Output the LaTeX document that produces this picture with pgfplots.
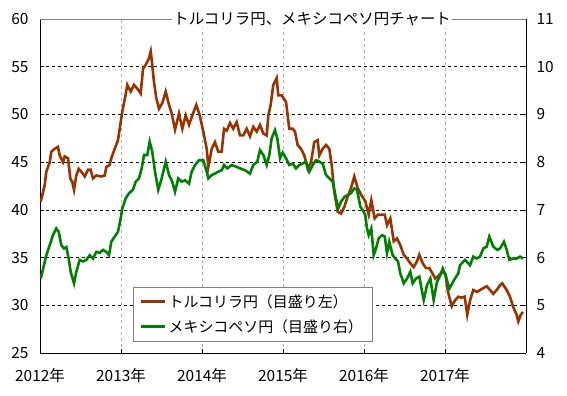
\documentclass[border=0pt]{standalone}
\usepackage{pgfplots}
\pgfplotsset{compat=1.18}
\usetikzlibrary{calc}
\usepackage{fontspec}
\setmainfont{Noto Sans CJK JP}
\definecolor{tryc}{RGB}{153,51,0}
\definecolor{mxnc}{RGB}{0,128,0}
\begin{document}
\begin{tikzpicture}
\useasboundingbox (-40bp,-43bp) rectangle (527bp,353bp);
\begin{axis}[
  name=ax,
  scale only axis, width=486bp, height=334bp,
  xmin=2012, xmax=2018, ymin=25, ymax=60,
  axis x line*=bottom, axis y line*=left,
  axis line style={black, line width=0.8bp},
  xtick={2012,2013,2014,2015,2016,2017},
  xticklabels={2012年,2013年,2014年,2015年,2016年,2017年},
  ytick={25,30,35,40,45,50,55,60},
  tick align=inside, major tick length=4bp,
  tick style={black, line width=0.6bp},
  /pgf/number format/assume math mode=true,
  ticklabel style={font=\fontsize{15.5}{17}\selectfont},
  xticklabel style={yshift=-12bp},
  yticklabel style={xshift=-8bp},
  grid=major,
  x grid style={gray!60, dash pattern=on 3bp off 3bp, line width=0.6bp},
  y grid style={black, dash pattern=on 3bp off 3bp, line width=0.6bp},
  legend style={at={(0.191,0.036)}, anchor=south west, draw=gray,
    font=\fontsize{15}{17}\selectfont, row sep=7bp, inner xsep=7bp, inner ysep=5bp},
  legend cell align=left,
  legend image code/.code={\draw[#1, line width=2.6bp] (0bp,0bp) -- (24bp,0bp);},
]
\addplot[tryc, line width=2.6bp] coordinates {
(2012.009,40.85)(2012.058,42.6)(2012.078,44.0)(2012.120,45.0)(2012.140,46.1)(2012.181,46.4)
(2012.222,46.6)(2012.243,45.7)(2012.284,45.0)(2012.305,45.6)(2012.346,45.4)(2012.374,43.3)
(2012.399,42.9)(2012.420,42.1)(2012.448,43.6)(2012.478,44.3)(2012.510,44.0)(2012.552,43.5)
(2012.593,44.2)(2012.626,44.2)(2012.654,43.3)(2012.695,43.6)(2012.757,43.5)(2012.799,43.6)
(2012.819,44.5)(2012.860,44.7)(2012.880,45.4)(2012.922,46.4)(2012.963,47.3)(2012.984,48.5)
(2013.016,50.3)(2013.049,51.7)(2013.078,53.1)(2013.120,52.4)(2013.160,53.1)(2013.201,52.7)
(2013.243,52.2)(2013.272,54.8)(2013.305,55.2)(2013.346,55.9)(2013.367,56.6)(2013.386,55.2)
(2013.407,53.4)(2013.436,51.7)(2013.469,50.6)(2013.510,51.2)(2013.552,52.4)(2013.593,51.0)
(2013.626,50.1)(2013.667,48.4)(2013.716,50.1)(2013.757,48.5)(2013.799,49.9)(2013.840,48.9)
(2013.880,49.9)(2013.930,51.0)(2013.972,49.9)(2014.016,48.2)(2014.058,46.4)(2014.078,44.5)
(2014.120,46.4)(2014.160,47.1)(2014.201,46.1)(2014.243,46.1)(2014.272,48.5)(2014.305,48.3)
(2014.346,49.1)(2014.386,48.5)(2014.428,49.2)(2014.469,47.8)(2014.510,47.8)(2014.552,48.5)
(2014.593,47.7)(2014.633,48.7)(2014.675,48.2)(2014.716,48.9)(2014.757,48.0)(2014.799,47.8)
(2014.819,49.9)(2014.848,51.0)(2014.880,53.1)(2014.922,53.8)(2014.942,52.0)(2014.984,52.0)
(2015.037,51.3)(2015.078,48.5)(2015.120,48.5)(2015.148,48.2)(2015.181,46.8)(2015.222,46.4)
(2015.263,45.7)(2015.305,44.3)(2015.346,45.0)(2015.386,47.1)(2015.428,47.3)(2015.448,45.7)
(2015.490,46.4)(2015.531,46.8)(2015.572,46.4)(2015.601,44.7)(2015.633,41.9)(2015.675,39.8)
(2015.716,39.6)(2015.757,40.3)(2015.799,41.4)(2015.840,42.3)(2015.880,43.5)(2015.922,42.3)
(2015.963,41.6)(2016.016,40.9)(2016.058,39.5)(2016.090,41.0)(2016.132,39.1)(2016.173,39.5)
(2016.214,39.5)(2016.256,39.5)(2016.284,38.4)(2016.325,39.1)(2016.367,36.7)(2016.407,37.0)
(2016.448,36.3)(2016.490,35.3)(2016.531,34.9)(2016.572,34.4)(2016.614,34.0)(2016.654,34.6)
(2016.683,35.3)(2016.725,34.4)(2016.765,33.9)(2016.806,33.9)(2016.848,33.3)(2016.880,32.8)
(2016.922,33.1)(2016.963,33.5)(2017.004,33.3)(2017.037,31.4)(2017.083,29.9)(2017.123,30.5)
(2017.164,30.9)(2017.204,30.8)(2017.243,30.9)(2017.275,29.0)(2017.309,30.5)(2017.349,31.6)
(2017.395,31.4)(2017.432,31.6)(2017.473,31.8)(2017.515,32.0)(2017.556,31.6)(2017.596,31.2)
(2017.638,31.6)(2017.679,32.1)(2017.707,32.3)(2017.762,31.6)(2017.802,30.9)(2017.843,29.8)
(2017.885,29.0)(2017.905,28.3)(2017.935,29.0)(2017.963,29.3)
};
\addlegendentry{トルコリラ円（目盛り左）}
\addlegendimage{mxnc, line width=2.6bp}
\addlegendentry{メキシコペソ円（目盛り右）}
\end{axis}
\begin{axis}[
  scale only axis, width=486bp, height=334bp,
  xmin=2012, xmax=2018, ymin=4, ymax=11,
  axis x line=none, axis y line*=right,
  axis line style={black, line width=0.8bp},
  ytick={4,5,6,7,8,9,10,11},
  tick align=inside, major tick length=4bp,
  tick style={black, line width=0.6bp},
  /pgf/number format/assume math mode=true,
  ticklabel style={font=\fontsize{15.5}{17}\selectfont},
  yticklabel style={xshift=7bp},
]
\addplot[mxnc, line width=2.6bp] coordinates {
(2012.009,5.56)(2012.049,5.84)(2012.078,6.05)(2012.120,6.26)(2012.160,6.47)(2012.201,6.61)
(2012.231,6.54)(2012.263,6.26)(2012.296,6.19)(2012.325,6.22)(2012.354,5.98)(2012.379,5.70)
(2012.420,5.46)(2012.448,5.70)(2012.490,5.95)(2012.531,5.92)(2012.572,5.95)(2012.614,6.05)
(2012.654,5.98)(2012.695,6.12)(2012.737,6.10)(2012.778,6.16)(2012.819,6.12)(2012.852,6.05)
(2012.880,6.33)(2012.922,6.44)(2012.963,6.54)(2012.996,6.82)(2013.016,7.03)(2013.058,7.24)
(2013.099,7.35)(2013.148,7.42)(2013.181,7.59)(2013.222,7.66)(2013.256,7.87)(2013.284,8.15)
(2013.325,8.15)(2013.354,8.43)(2013.386,8.22)(2013.420,7.80)(2013.460,7.42)(2013.502,7.66)
(2013.552,8.01)(2013.593,7.73)(2013.633,7.59)(2013.667,7.38)(2013.707,7.66)(2013.749,7.59)
(2013.790,7.62)(2013.840,7.55)(2013.873,7.80)(2013.914,7.94)(2013.963,8.04)(2014.016,8.04)
(2014.058,7.80)(2014.078,7.66)(2014.120,7.73)(2014.160,7.76)(2014.201,7.80)(2014.243,7.83)
(2014.272,7.94)(2014.312,7.87)(2014.367,7.94)(2014.428,7.90)(2014.469,7.87)(2014.531,7.83)
(2014.593,7.76)(2014.633,7.94)(2014.683,8.01)(2014.716,8.25)(2014.757,8.15)(2014.799,7.94)
(2014.831,8.15)(2014.860,8.50)(2014.901,8.67)(2014.930,8.50)(2014.963,8.08)(2014.996,8.20)
(2015.037,8.08)(2015.078,7.94)(2015.120,7.97)(2015.160,7.87)(2015.201,7.94)(2015.243,7.97)
(2015.284,8.01)(2015.325,7.80)(2015.367,7.94)(2015.407,8.04)(2015.448,8.01)(2015.490,7.97)
(2015.531,7.73)(2015.572,7.66)(2015.614,7.59)(2015.654,7.24)(2015.683,7.03)(2015.716,7.17)
(2015.757,7.27)(2015.799,7.31)(2015.840,7.35)(2015.880,7.45)(2015.914,7.42)(2015.954,7.07)
(2015.996,6.96)(2016.016,6.89)(2016.037,6.61)(2016.058,6.47)(2016.090,6.61)(2016.120,6.05)
(2016.148,6.19)(2016.181,6.40)(2016.222,6.47)(2016.256,6.44)(2016.284,6.09)(2016.312,6.33)
(2016.354,6.05)(2016.386,5.98)(2016.420,5.92)(2016.448,5.67)(2016.490,5.46)(2016.531,5.56)
(2016.572,5.70)(2016.601,5.46)(2016.642,5.56)(2016.683,5.60)(2016.737,5.11)(2016.778,5.42)
(2016.819,5.56)(2016.860,5.11)(2016.901,5.49)(2016.942,5.63)(2016.972,5.77)(2017.012,5.60)
(2017.053,5.35)(2017.086,5.45)(2017.123,5.56)(2017.164,5.67)(2017.185,5.84)(2017.247,5.95)
(2017.309,5.84)(2017.349,6.02)(2017.391,5.98)(2017.432,6.02)(2017.473,6.19)(2017.515,6.23)
(2017.547,6.44)(2017.596,6.23)(2017.646,6.16)(2017.679,6.19)(2017.728,6.33)(2017.762,6.16)
(2017.794,5.95)(2017.840,5.98)(2017.885,5.98)(2017.926,6.02)(2017.967,5.98)
};
\end{axis}
\draw[gray, line width=0.8bp] (ax.north west) -- (ax.north east);
\node[fill=white, inner xsep=1bp, inner ysep=2bp, font=\fontsize{15.5}{17}\selectfont] at ($(ax.north west)!0.56!(ax.north east)$) {トルコリラ円、メキシコペソ円チャート};
\end{tikzpicture}
\end{document}
